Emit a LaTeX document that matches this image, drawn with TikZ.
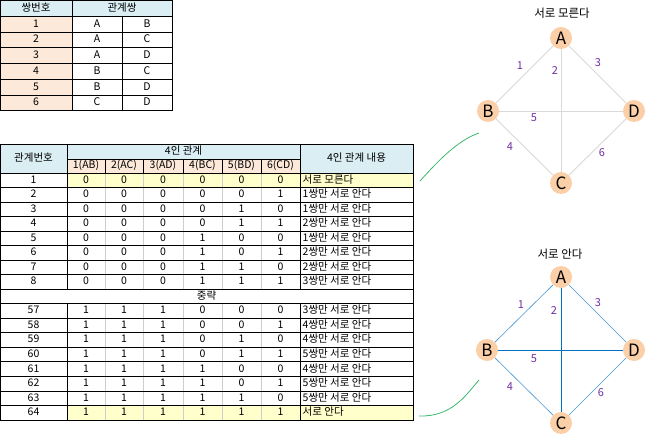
\documentclass[tikz,border=0pt]{standalone}
\usepackage{fontspec}
\setmainfont{Noto Sans CJK KR}
\definecolor{hdrblue}{RGB}{218,238,243}
\definecolor{hdrorange}{RGB}{253,233,217}
\definecolor{ylw}{RGB}{255,255,204}
\definecolor{nodefill}{RGB}{251,208,168}
\definecolor{lblpurple}{RGB}{112,48,160}
\definecolor{edgegray}{RGB}{217,217,217}
\definecolor{edgeblue}{RGB}{0,112,192}
\definecolor{edgeblue2}{RGB}{70,150,210}
\definecolor{gridgray}{RGB}{205,205,205}
\definecolor{curvegreen}{RGB}{60,185,110}
\begin{document}
\begin{tikzpicture}[x=1bp,y=-1bp,
  txt/.style={inner sep=0pt, font=\fontsize{10.5bp}{12bp}\selectfont, text height=7.8bp, text depth=2bp},
  tline/.style={black, line width=0.8bp},
  gline/.style={gridgray, line width=0.7bp},
  vert/.style={circle, fill=nodefill, minimum size=22bp, inner sep=0pt, font=\fontsize{17bp}{18bp}\selectfont},
  elbl/.style={inner sep=0pt, text=lblpurple, font=\fontsize{11bp}{12bp}\selectfont},
  ttl/.style={inner sep=0pt, font=\fontsize{11.5bp}{12bp}\selectfont},
  edgeA/.style={edgegray, line width=0.9bp},
  edgeB/.style={edgeblue, line width=0.8bp},
  edgeBd/.style={edgeblue2, line width=0.6bp},
  link/.style={curvegreen, line width=0.8bp}]
\useasboundingbox (0,0) rectangle (647,438);
\fill[white] (0,0) rectangle (647,438);

% ---------- top table ----------
\fill[hdrblue] (0.5,0.5) rectangle (172,16.25);
\fill[hdrorange] (0.5,16.25) rectangle (72,110.75);
\draw[tline] (0.5,0.5) rectangle (172,110.75);
\foreach \i in {1,...,6} {
  \pgfmathsetmacro\yy{0.5+15.75*\i}
  \draw[tline] (0.5,\yy) -- (172,\yy);
}
\draw[tline] (72,0.5) -- (72,110.75);
\draw[tline] (122,16.25) -- (122,110.75);
\node[txt] (th0) at (36,8.4) {쌍번호};
\node[txt] (th1) at (122,8.4) {관계쌍};
\foreach \i/\pa/\pb in {1/A/B,2/A/C,3/A/D,4/B/C,5/B/D,6/C/D} {
  \pgfmathsetmacro\yy{0.5+15.75*\i+7.9}
  \node[txt] (p\i) at (36,\yy) {\i};
  \node[txt] (pa\i) at (97,\yy) {\pa};
  \node[txt] (pb\i) at (147,\yy) {\pb};
}

% ---------- bottom table ----------
\fill[hdrblue] (0.5,144) rectangle (413,173);
\fill[hdrorange] (67,159) rectangle (300,173);
\fill[ylw] (67,173) rectangle (413,187.53);
\fill[ylw] (67,405.47) rectangle (413,420);
\foreach \xx in {105,143,183,222,261} {
  \draw[gline] (\xx,173) -- (\xx,289.24);
  \draw[gline] (\xx,303.77) -- (\xx,420);
  \draw[tline] (\xx,159) -- (\xx,173);
}
\draw[tline] (0.5,144) rectangle (413,420);
\draw[tline] (67,159) -- (300,159);
\draw[tline] (0.5,173) -- (413,173);
\foreach \k in {1,...,16} {
  \pgfmathsetmacro\yy{173+\k*14.53}
  \draw[tline] (0.5,\yy) -- (413,\yy);
}
\foreach \xx in {67,300} {
  \draw[tline] (\xx,144) -- (\xx,289.24);
  \draw[tline] (\xx,303.77) -- (\xx,420);
}
\node[txt] (hnum) at (33.5,158.5) {관계번호};
\node[txt] (hrel) at (183.5,151.5) {4인 관계};
\node[txt] (hdesc) at (356.5,158.5) {4인 관계 내용};
\foreach \xx/\lab [count=\j] in {86/1(AB),124/2(AC),163/3(AD),202.5/4(BC),241.5/5(BD),280.5/6(CD)}
  \node[txt] (hs\j) at (\xx,166) {\lab};

\foreach \k/\n/\qa/\qb/\qc/\qd/\qe/\qf/\desc in {
  1/1/0/0/0/0/0/0/서로 모른다,
  2/2/0/0/0/0/0/1/1쌍만 서로 안다,
  3/3/0/0/0/0/1/0/1쌍만 서로 안다,
  4/4/0/0/0/0/1/1/2쌍만 서로 안다,
  5/5/0/0/0/1/0/0/1쌍만 서로 안다,
  6/6/0/0/0/1/0/1/2쌍만 서로 안다,
  7/7/0/0/0/1/1/0/2쌍만 서로 안다,
  8/8/0/0/0/1/1/1/3쌍만 서로 안다,
  10/57/1/1/1/0/0/0/3쌍만 서로 안다,
  11/58/1/1/1/0/0/1/4쌍만 서로 안다,
  12/59/1/1/1/0/1/0/4쌍만 서로 안다,
  13/60/1/1/1/0/1/1/5쌍만 서로 안다,
  14/61/1/1/1/1/0/0/4쌍만 서로 안다,
  15/62/1/1/1/1/0/1/5쌍만 서로 안다,
  16/63/1/1/1/1/1/0/5쌍만 서로 안다,
  17/64/1/1/1/1/1/1/서로 안다} {
  \pgfmathsetmacro\yy{173+(\k-0.5)*14.53}
  \node[txt] (n\k) at (33.5,\yy) {\n};
  \foreach \v/\xx [count=\j] in {\qa/86,\qb/124,\qc/163,\qd/202.5,\qe/241.5,\qf/280.5}
    \node[txt] (v\k-\j) at (\xx,\yy) {\v};
  \node[txt, anchor=west] (d\k) at (302.5,\yy) {\desc};
}
\node[txt] (skip) at (206.5,296.5) {중략};

% ---------- graph 1 ----------
\node[ttl] (t1) at (562,13) {서로 모른다};
\node[vert] (A1) at (561,38) {A};
\node[vert] (B1) at (488,111) {B};
\node[vert] (D1) at (634,111) {D};
\node[vert] (C1) at (561,183) {C};
\draw[edgeA] (B1) -- (A1);
\draw[edgeA] (A1) -- (C1);
\draw[edgeA] (A1) -- (D1);
\draw[edgeA] (B1) -- (D1);
\draw[edgeA] (B1) -- (C1);
\draw[edgeA] (C1) -- (D1);
\node[elbl] (l11) at (520,66) {1};
\node[elbl] (l12) at (555,71) {2};
\node[elbl] (l13) at (598,63) {3};
\node[elbl] (l14) at (510,147) {4};
\node[elbl] (l15) at (534,118) {5};
\node[elbl] (l16) at (602,153) {6};

% ---------- graph 2 ----------
\node[ttl] (t2) at (560,254) {서로 안다};
\node[vert] (A2) at (561,277) {A};
\node[vert] (B2) at (487,350) {B};
\node[vert] (D2) at (634,350) {D};
\node[vert] (C2) at (561,423) {C};
\draw[edgeBd] (B2) -- (A2);
\draw[edgeB] (A2) -- (C2);
\draw[edgeBd] (A2) -- (D2);
\draw[edgeB] (B2) -- (D2);
\draw[edgeBd] (B2) -- (C2);
\draw[edgeBd] (C2) -- (D2);
\node[elbl] (l21) at (521,305) {1};
\node[elbl] (l22) at (554,311) {2};
\node[elbl] (l23) at (598,303) {3};
\node[elbl] (l24) at (510,387) {4};
\node[elbl] (l25) at (534,359) {5};
\node[elbl] (l26) at (601,393) {6};

% ---------- links ----------
\coordinate (g1s) at (420,181);
\coordinate (g1e) at (479,133);
\draw[link] (g1s) .. controls (432,168) and (455,141) .. (g1e);
\coordinate (g2s) at (419,416);
\coordinate (g2e) at (479,380);
\draw[link] (g2s) .. controls (452,417) and (466,395) .. (g2e);
\end{tikzpicture}
\end{document}
